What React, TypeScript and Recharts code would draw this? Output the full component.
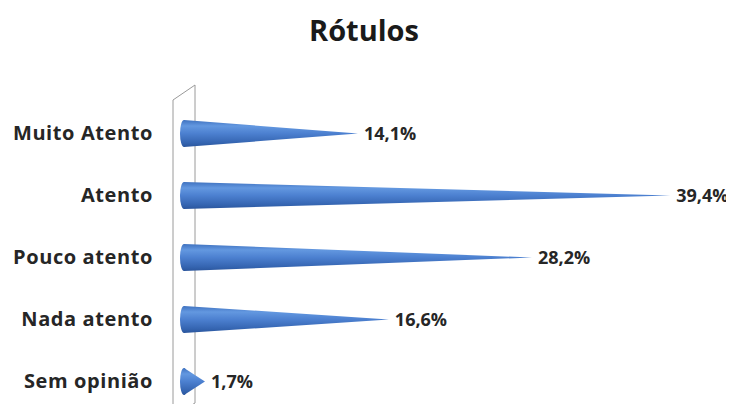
import { BarChart, Bar, XAxis, YAxis, LabelList, Customized } from "recharts"

const categorias = ["Muito Atento", "Atento", "Pouco atento", "Nada atento", "Sem opinião"]
const valores = [14.1, 39.4, 28.2, 16.6, 1.7]
const rotulos = ["14,1%", "39,4%", "28,2%", "16,6%", "1,7%"]

const data = categorias.map((nome, i) => ({ nome, valor: valores[i], rotulo: rotulos[i] }))

const FONT = "'Open Sans', sans-serif"
const AXIS_W = 184
const TOP = 102

// Cone drawn like the old Excel 3D cone bars
const Cone = (props: any) => {
  const { x, y, width, height } = props
  const cy = y + height / 2
  return (
    <g>
      <path d={`M${x},${y} L${x + width},${cy} L${x},${y + height} Z`} fill="url(#coneGrad)" />
      <ellipse cx={x} cy={cy} rx={4} ry={height / 2} fill="url(#coneGrad)" />
    </g>
  )
}

// the left wall of the 3D plot
const Wall = () => (
  <g stroke="#9a9a9a" strokeWidth={1} fill="none">
    <line x1={173} y1={TOP - 2} x2={173} y2={412} />
    <line x1={195} y1={TOP - 17} x2={195} y2={403} />
    <line x1={173} y1={TOP - 2} x2={195} y2={TOP - 17} />
    <line x1={195} y1={403} x2={180} y2={412} />
  </g>
)

const ValueLabel = (props: any) => {
  const { x, y, width, height, value } = props
  return (
    <text x={x + width + 6} y={y + height / 2} dy={6} fontFamily={FONT} fontWeight={700} fontSize={18} fill="#262626">
      {value}
    </text>
  )
}

export default function App() {
  return (
    <div style={{ position: "relative", width: 734, height: 412, margin: -8, background: "#fff" }}>
      <div
        style={{
          position: "absolute",
          top: 10,
          left: 0,
          width: 728,
          textAlign: "center",
          fontFamily: FONT,
          fontWeight: 700,
          fontSize: 29,
          color: "#1a1a1a",
        }}
      >
        Rótulos
      </div>
      <BarChart
        width={734}
        height={412}
        data={data}
        layout="vertical"
        margin={{ top: TOP, right: 7, bottom: 0, left: 0 }}
      >
        <defs>
          <linearGradient id="coneGrad" x1="0" y1="0" x2="0" y2="1">
            <stop offset="0" stopColor="#3f72c0" />
            <stop offset="0.22" stopColor="#6398e0" />
            <stop offset="0.5" stopColor="#4c80d0" />
            <stop offset="0.85" stopColor="#3464b0" />
            <stop offset="1" stopColor="#2a559c" />
          </linearGradient>
        </defs>
        <Customized component={<Wall />} />
        <XAxis type="number" domain={[0, 44]} hide />
        <YAxis
          type="category"
          dataKey="nome"
          width={AXIS_W}
          axisLine={false}
          tickLine={false}
          tickSize={0}
          tickMargin={31}
          tick={{ fontFamily: FONT, fontWeight: 700, fontSize: 20, fill: "#262626", letterSpacing: 0.6 }}
        />
        <Bar dataKey="valor" barSize={27} shape={<Cone />} isAnimationActive={false}>
          <LabelList dataKey="rotulo" content={<ValueLabel />} />
        </Bar>
      </BarChart>
    </div>
  )
}
